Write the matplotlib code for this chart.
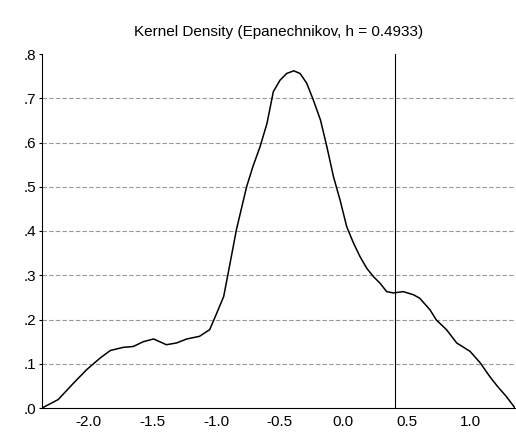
import matplotlib
matplotlib.use('Agg')
import matplotlib.pyplot as plt
import numpy as np

plt.rcParams['font.family'] = ['Liberation Sans', 'DejaVu Sans']

# density curve
x = [-2.367, -2.24, -2.12, -2.015, -1.91, -1.83, -1.73, -1.65, -1.57, -1.49, -1.39, -1.31,
     -1.23, -1.13, -1.05, -0.995, -0.94, -0.89, -0.84, -0.76, -0.71, -0.655, -0.60, -0.55,
     -0.497, -0.445, -0.39, -0.34, -0.288, -0.236, -0.18, -0.13, -0.078, -0.026, 0.026,
     0.079, 0.131, 0.183, 0.236, 0.288, 0.34, 0.393, 0.47, 0.55, 0.60, 0.68, 0.73, 0.81,
     0.89, 0.995, 1.075, 1.15, 1.21, 1.28, 1.348]
y = [0.0, 0.019, 0.056, 0.087, 0.113, 0.13, 0.137, 0.139, 0.150, 0.156, 0.143, 0.147,
     0.156, 0.162, 0.177, 0.214, 0.252, 0.327, 0.403, 0.5, 0.546, 0.59, 0.643, 0.715,
     0.741, 0.756, 0.762, 0.756, 0.734, 0.696, 0.651, 0.591, 0.523, 0.47, 0.41,
     0.373, 0.342, 0.316, 0.297, 0.282, 0.263, 0.26, 0.263, 0.256, 0.248, 0.222, 0.199, 0.177,
     0.147, 0.128, 0.102, 0.071, 0.049, 0.026, 0.0]
vline_x = 0.404
xticks = [-2.0, -1.5, -1.0, -0.5, 0.0, 0.5, 1.0]
yticks = [0.0, 0.1, 0.2, 0.3, 0.4, 0.5, 0.6, 0.7, 0.8]
ylabels = ['.0', '.1', '.2', '.3', '.4', '.5', '.6', '.7', '.8']

fig = plt.figure(figsize=(5.16, 4.43), dpi=100)
ax = fig.add_axes([42/516, 35/443, 473/516, 354/443])
for t in yticks[1:-1]:
    ax.axhline(t, color='#999999', lw=0.8, ls=(0, (4, 2)), zorder=0)
ax.plot(x, y, color='black', lw=1.1)
ax.axvline(vline_x, color='black', lw=0.8)
ax.set_xlim(-2.367, 1.348)
ax.set_ylim(0, 0.8)
ax.set_xticks(xticks)
ax.set_xticklabels(['%.1f' % t for t in xticks])
ax.set_yticks(yticks)
ax.set_yticklabels(ylabels)
ax.tick_params(labelsize=11, length=2, width=0.8, direction='out', pad=2)
ax.tick_params(axis='x', length=0, pad=5)
for s in ['top', 'right']:
    ax.spines[s].set_visible(False)
ax.set_title('Kernel Density (Epanechnikov, h = 0.4933)', fontsize=11, pad=13)
fig.savefig('out.png', dpi=100)
